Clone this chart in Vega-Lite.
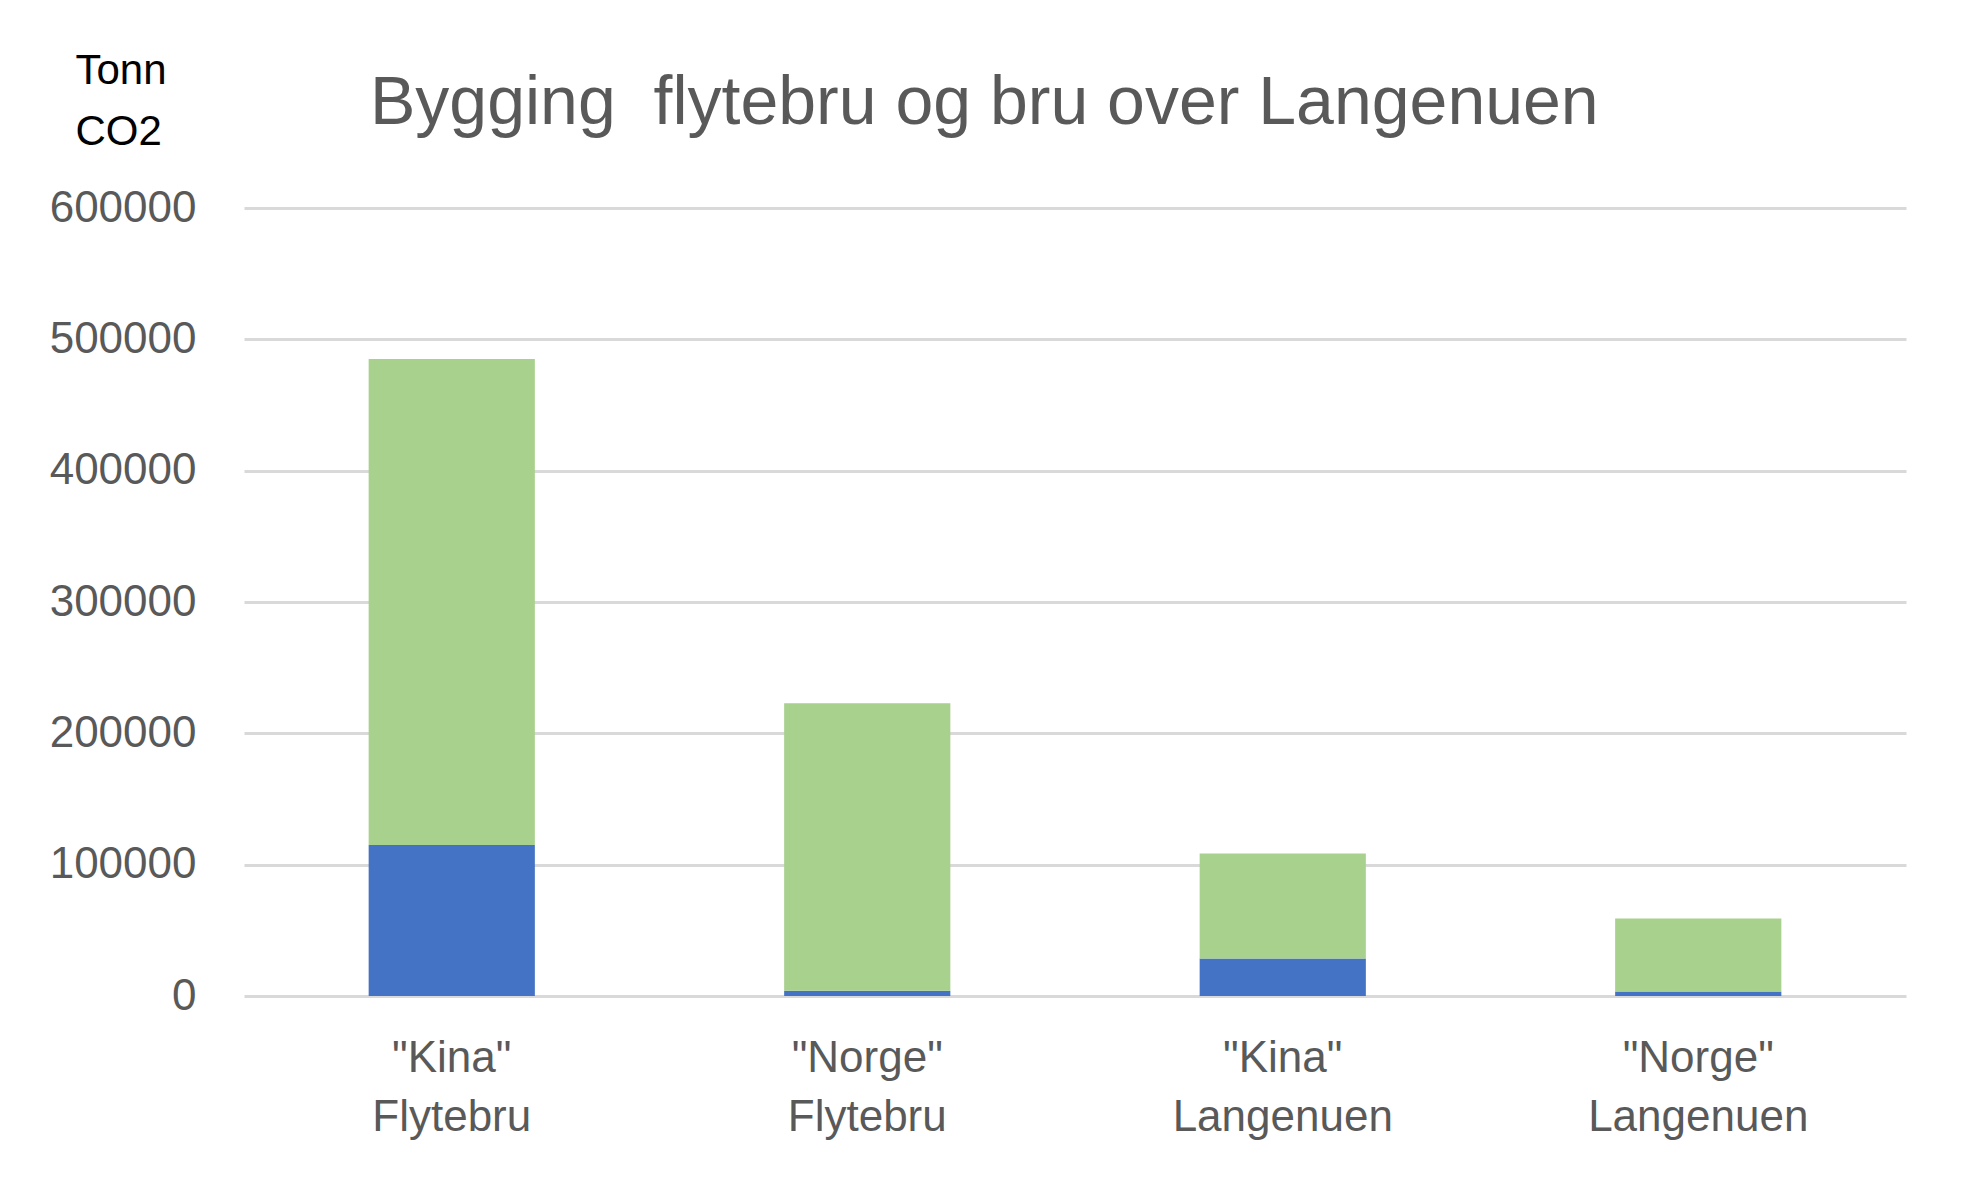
{
  "$schema": "https://vega.github.io/schema/vega-lite/v6.json",
  "width": 1662,
  "height": 788,
  "autosize": {"type": "none"},
  "padding": {"left": 244, "top": 208, "right": 56, "bottom": 192},
  "background": "#ffffff",
  "config": {"view": {"stroke": null}, "font": "Liberation Sans"},
  "title": {
    "text": "Bygging \u00a0flytebru og bru over Langenuen",
    "anchor": "start",
    "frame": "group",
    "dx": 126,
    "offset": -143,
    "baseline": "alphabetic",
    "fontSize": 68,
    "fontWeight": "normal",
    "color": "#595959",
    "font": "Liberation Sans"
  },
  "data": {
    "values": [
      {"kategori": "\"Kina\" Flytebru", "del": "A", "tonn": 115000},
      {"kategori": "\"Kina\" Flytebru", "del": "B", "tonn": 370000},
      {"kategori": "\"Norge\" Flytebru", "del": "A", "tonn": 4000},
      {"kategori": "\"Norge\" Flytebru", "del": "B", "tonn": 219000},
      {"kategori": "\"Kina\" Langenuen", "del": "A", "tonn": 28500},
      {"kategori": "\"Kina\" Langenuen", "del": "B", "tonn": 80000},
      {"kategori": "\"Norge\" Langenuen", "del": "A", "tonn": 3500},
      {"kategori": "\"Norge\" Langenuen", "del": "B", "tonn": 55500}
    ]
  },
  "mark": {"type": "bar"},
  "encoding": {
    "x": {
      "field": "kategori",
      "type": "nominal",
      "sort": null,
      "scale": {"paddingInner": 0.6, "paddingOuter": 0.3},
      "axis": {
        "title": null,
        "labelAngle": 0,
        "labelExpr": "split(datum.label, ' ')",
        "labelFont": "Liberation Sans",
        "labelFontSize": 44,
        "labelColor": "#595959",
        "labelLineHeight": 59,
        "labelPadding": 40,
        "labelLimit": 0,
        "ticks": false,
        "domain": false,
        "grid": false
      }
    },
    "y": {
      "field": "tonn",
      "type": "quantitative",
      "stack": "zero",
      "scale": {"domain": [0, 600000]},
      "axis": {
        "values": [0, 100000, 200000, 300000, 400000, 500000, 600000],
        "format": "d",
        "labelFont": "Liberation Sans",
        "labelFontSize": 44,
        "labelColor": "#595959",
        "labelPadding": 48,
        "ticks": false,
        "domain": false,
        "grid": true,
        "gridColor": "#d9d9d9",
        "gridWidth": 3,
        "title": ["Tonn", "CO2"],
        "titleAngle": 0,
        "titleX": -169,
        "titleY": -125,
        "titleAlign": "left",
        "titleBaseline": "alphabetic",
        "titleFont": "Liberation Sans",
        "titleFontSize": 42,
        "titleFontWeight": "normal",
        "titleColor": "#000000",
        "titleLineHeight": 61
      }
    },
    "color": {
      "field": "del",
      "type": "nominal",
      "scale": {"domain": ["A", "B"], "range": ["#4472C4", "#A9D18E"]},
      "legend": null
    },
    "order": {"field": "del", "type": "nominal"}
  }
}
